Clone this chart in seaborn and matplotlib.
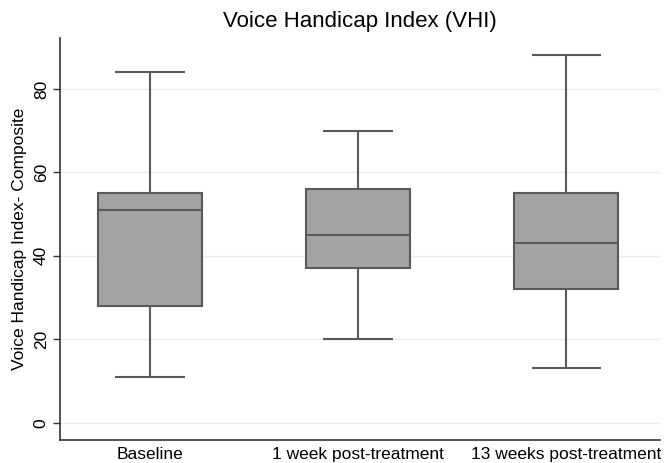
import matplotlib
matplotlib.use("Agg")
import matplotlib.pyplot as plt
import seaborn as sns
import pandas as pd

categories = ["Baseline", "1 week post-treatment", "13 weeks post-treatment"]
mins = [11, 20, 13]
q1s = [28, 37, 32]
medians = [51, 45, 43]
q3s = [55, 56, 55]
maxs = [84, 70, 88]
yticks = [0, 20, 40, 60, 80]

rows = []
for c, a, b, m, d, e in zip(categories, mins, q1s, medians, q3s, maxs):
    for v in (a, b, m, d, e):
        rows.append({"group": c, "value": v})
df = pd.DataFrame(rows)

sns.set_style("white")
plt.rcParams["font.family"] = ["Liberation Sans", "DejaVu Sans"]

fig = plt.figure(figsize=(6.66, 4.63), dpi=100)
ax = fig.add_axes([0.090, 0.050, 0.901, 0.868])

edge = "#5a5a5a"
lw = 1.5
sns.boxplot(data=df, x="group", y="value", order=categories, whis=(0, 100),
            width=0.5, color="#a3a3a3", saturation=1, linecolor=edge,
            linewidth=lw, ax=ax, showcaps=False,
            medianprops=dict(color=edge, linewidth=lw),
            whiskerprops=dict(color=edge, linewidth=lw),
            boxprops=dict(edgecolor=edge, linewidth=lw))
# Stata-style whisker caps (wider than seaborn default)
pos = list(range(len(categories)))
cap_half = 0.167
ax.hlines(maxs, [p - cap_half for p in pos], [p + cap_half for p in pos], colors=edge, linewidth=lw, zorder=3)
ax.hlines(mins, [p - cap_half for p in pos], [p + cap_half for p in pos], colors=edge, linewidth=lw, zorder=3)

ax.set_xlim(-0.433, 2.45)
ax.set_ylim(-4.1, 92.2)
ax.set_yticks(yticks)
ax.set_yticklabels([str(t) for t in yticks], rotation=90, va="center", fontsize=12.5, color="black")
ax.tick_params(axis="y", length=5, width=1, color="#333333", direction="out", left=True, pad=3)
ax.tick_params(axis="x", length=0, labelsize=12.5, labelcolor="black", pad=5)
ax.yaxis.grid(True, color="#ececec", linewidth=1)
ax.set_axisbelow(True)
for s in ["top", "right"]:
    ax.spines[s].set_visible(False)
for s in ["left", "bottom"]:
    ax.spines[s].set_color("#333333")
    ax.spines[s].set_linewidth(1.2)
ax.set_xlabel("")
ax.set_ylabel("Voice Handicap Index- Composite", fontsize=12.5, color="black", labelpad=5)
ax.set_title("Voice Handicap Index (VHI)", fontsize=16, color="black", pad=8)

fig.savefig("out.png", dpi=100)
